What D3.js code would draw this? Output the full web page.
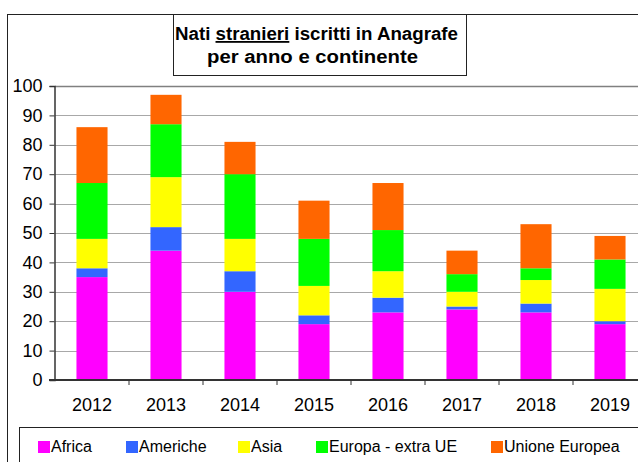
<!DOCTYPE html>
<html>
<head>
<meta charset="utf-8">
<script src="https://cdn.jsdelivr.net/npm/d3@7"></script>
<style>
  body { margin: 0; background: #fff; overflow: hidden; }
  text { font-family: "Liberation Sans", Arial, sans-serif; fill: #000; }
</style>
</head>
<body>
<div id="chart"></div>
<script>
// data
var years = ["2012", "2013", "2014", "2015", "2016", "2017", "2018", "2019"];
var africa   = [35, 44, 30, 19, 23, 24, 23, 19];
var americhe = [ 3,  8,  7,  3,  5,  1,  3,  1];
var asia     = [10, 17, 11, 10,  9,  5,  8, 11];
var europa   = [19, 18, 22, 16, 14,  6,  4, 10];
var ue       = [19, 10, 11, 13, 16,  8, 15,  8];
var seriesNames = ["Africa", "Americhe", "Asia", "Europa - extra UE", "Unione Europea"];
var yTicks = [0, 10, 20, 30, 40, 50, 60, 70, 80, 90, 100];

var colors = ["#ff00ff", "#3366ff", "#ffff00", "#00ff00", "#ff6600"];

var rows = years.map(function(y, i) {
    return {year: y, "Africa": africa[i], "Americhe": americhe[i], "Asia": asia[i],
            "Europa - extra UE": europa[i], "Unione Europea": ue[i]};
});

var W = 638, H = 462;
var plot = {left: 55, right: 647, top: 86, bottom: 380};

var svg = d3.select("#chart").append("svg")
    .attr("width", W)
    .attr("height", H);

// outer chart frame
svg.append("rect")
    .attr("x", 7.5).attr("y", 14.5)
    .attr("width", 700).attr("height", 500)
    .attr("fill", "none").attr("stroke", "#222").attr("stroke-width", 1);

var x = d3.scaleBand().domain(years)
    .range([plot.left, plot.right])
    .paddingInner(0.58).paddingOuter(0.29);
var y = d3.scaleLinear().domain([0, 100]).range([plot.bottom, plot.top]);

// gridlines
svg.append("g").selectAll("line")
    .data(yTicks.filter(d => d > 0))
    .enter().append("line")
    .attr("x1", plot.left).attr("x2", W)
    .attr("y1", d => Math.round(y(d)) + 0.5)
    .attr("y2", d => Math.round(y(d)) + 0.5)
    .attr("stroke", d => d == 100 ? "#808080" : "#a8a8a8")
    .attr("stroke-width", d => d == 100 ? 1.5 : 1);

// bars
var stack = d3.stack().keys(seriesNames)(rows);
var color = d3.scaleOrdinal().domain(seriesNames).range(colors);

svg.append("g").selectAll("g")
    .data(stack)
    .enter().append("g")
    .attr("fill", d => color(d.key))
    .selectAll("rect")
    .data(d => d)
    .enter().append("rect")
    .attr("x", d => x(d.data.year))
    .attr("width", x.bandwidth())
    .attr("y", d => y(d[1]))
    .attr("height", d => y(d[0]) - y(d[1]));

// y axis
var yAxis = d3.axisLeft(y).tickValues(yTicks).tickSize(5).tickPadding(7);
var gy = svg.append("g")
    .attr("transform", "translate(" + (plot.left - 0.5) + ",0)")
    .call(yAxis);
gy.select(".domain").attr("stroke", "#333").attr("stroke-width", 1.5);
gy.selectAll(".tick line").attr("stroke", "#333");
gy.selectAll("text")
    .style("font-size", "18px")
    .attr("fill", "#000");

// x axis with ticks between categories
var xAxisG = svg.append("g");
xAxisG.append("line")
    .attr("x1", plot.left - 6).attr("x2", W)
    .attr("y1", plot.bottom).attr("y2", plot.bottom)
    .attr("stroke", "#333").attr("stroke-width", 2);
var step = x.step();
xAxisG.selectAll(".xt")
    .data(years)
    .enter().append("line")
    .attr("class", "xt")
    .attr("x1", d => x(d) - x.paddingOuter() * step + step)
    .attr("x2", d => x(d) - x.paddingOuter() * step + step)
    .attr("y1", plot.bottom).attr("y2", plot.bottom + 5)
    .attr("stroke", "#333");
xAxisG.selectAll(".xl")
    .data(years)
    .enter().append("text")
    .attr("class", "xl")
    .attr("x", d => x(d) + x.bandwidth() / 2)
    .attr("y", 411)
    .attr("text-anchor", "middle")
    .style("font-size", "18px")
    .text(d => d);

// title box
svg.append("rect")
    .attr("x", 173.5).attr("y", 14.5)
    .attr("width", 293).attr("height", 61)
    .attr("fill", "#fff").attr("stroke", "#222");

var t1 = svg.append("text")
    .attr("x", 175).attr("y", 40)
    .attr("textLength", 283).attr("lengthAdjust", "spacingAndGlyphs")
    .style("font-size", "18px").style("font-weight", "bold");
t1.append("tspan").text("Nati ");
t1.append("tspan").style("text-decoration", "underline").text("stranieri");
t1.append("tspan").text(" iscritti in Anagrafe");

svg.append("text")
    .attr("x", 207).attr("y", 63)
    .attr("textLength", 211).attr("lengthAdjust", "spacingAndGlyphs")
    .style("font-size", "18px").style("font-weight", "bold")
    .text("per anno e continente");

// legend
svg.append("rect")
    .attr("x", 19.5).attr("y", 427.5)
    .attr("width", 700).attr("height", 60)
    .attr("fill", "#fff").attr("stroke", "#222");

var legendX = [38, 126, 238, 316, 491];
var lg = svg.append("g").selectAll("g")
    .data(seriesNames)
    .enter().append("g")
    .attr("transform", (d, i) => "translate(" + legendX[i] + ",441)");
lg.append("rect")
    .attr("width", 12).attr("height", 12)
    .attr("fill", d => color(d));
lg.append("text")
    .attr("x", 13).attr("y", 11)
    .style("font-size", "16px")
    .text(d => d);
</script>
</body>
</html>
